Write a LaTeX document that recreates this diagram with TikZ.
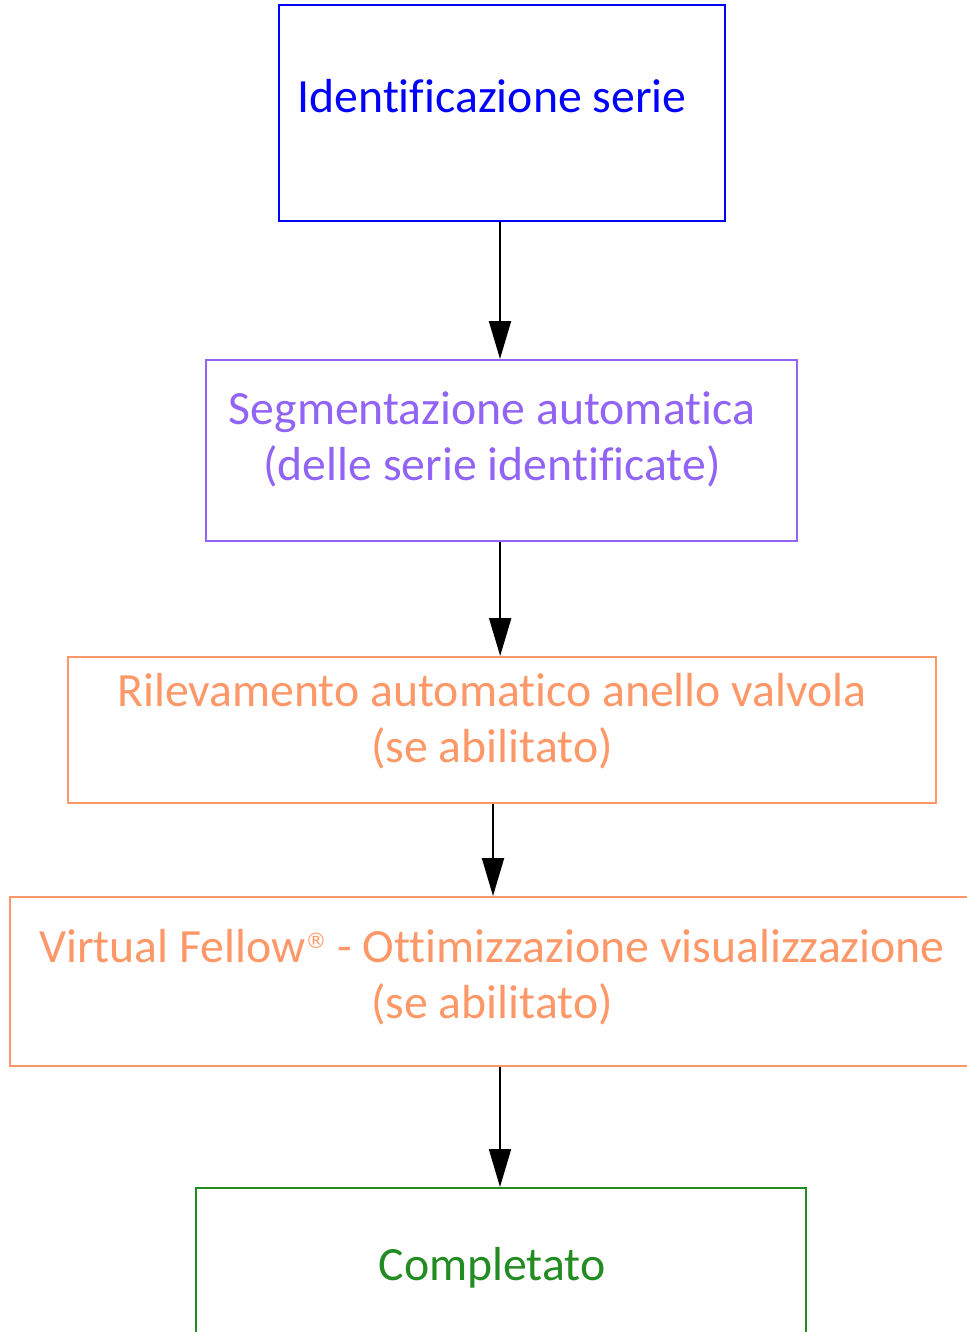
\documentclass[tikz,border=0pt]{standalone}
\usepackage{fontspec}
\setmainfont{Carlito}[Ligatures=CommonOff, RawFeature=-liga]
\newfontfamily\regfont{DejaVu Sans}
\usetikzlibrary{arrows.meta}

\definecolor{stepblue}{RGB}{0,0,255}
\definecolor{steppurple}{RGB}{145,100,245}
\definecolor{steporange}{RGB}{255,152,104}
\definecolor{stepgreen}{RGB}{34,139,34}

\newcommand{\regmark}{\raisebox{10pt}{\regfont\fontsize{16pt}{16pt}\selectfont ®}}

\tikzset{
    stepbox/.style={draw=#1, line width=1.5pt, inner sep=0pt, rectangle},
    steptext/.style={text=#1, anchor=base, align=center, inner sep=0pt,
        font=\fontsize{35.8pt}{42pt}\selectfont},
    flow/.style={-{Triangle[length=28.5pt,width=16.5pt]}, line width=1.5pt, black}
}

\begin{document}
\begin{tikzpicture}[x=0.75pt, y=-0.75pt]
    \useasboundingbox (0,0) rectangle (967,1332);
    \clip (0,0) rectangle (967,1332);

    % Riquadri delle fasi
    \node[stepbox=stepblue, minimum width=334.5pt, minimum height=162pt]
        (ident) at (502,113) {};
    \node[stepbox=steppurple, minimum width=443.25pt, minimum height=135.75pt]
        (segm) at (501.5,450.5) {};
    \node[stepbox=steporange, minimum width=651pt, minimum height=109.5pt]
        (anello) at (502,730) {};
    \node[stepbox=steporange, minimum width=735pt, minimum height=126.75pt]
        (fellow) at (500,981.5) {};
    \node[stepbox=stepgreen, minimum width=457.5pt, minimum height=121.5pt]
        (fine) at (501,1269) {};

    % Testi (ancorati alla linea di base dell'ultima riga)
    \node[steptext=stepblue] (identtxt) at (492,112) {Identificazione serie};
    \node[steptext=steppurple] (segmtxt) at (492,480)
        {Segmentazione automatica\\(delle serie identificate)};
    \node[steptext=steporange] (anellotxt) at (492,762)
        {Rilevamento automatico anello valvola\\(se abilitato)};
    \node[steptext=steporange] (fellowtxt) at (492,1018)
        {Virtual Fellow\regmark{} - Ottimizzazione visualizzazione\\(se abilitato)};
    \node[steptext=stepgreen] (finetxt) at (492,1280) {Completato};

    % Frecce
    \draw[flow] ([xshift=-1.5pt]ident.south) -- ([xshift=-1.5pt]ident.south |- segm.north);
    \draw[flow] ([xshift=-1pt]segm.south) -- ([xshift=-1pt]segm.south |- anello.north);
    \draw[flow] ([xshift=-6.75pt]anello.south) -- ([xshift=-6.75pt]anello.south |- fellow.north);
    \draw[flow] (fellow.south) -- (fellow.south |- fine.north);
\end{tikzpicture}
\end{document}
